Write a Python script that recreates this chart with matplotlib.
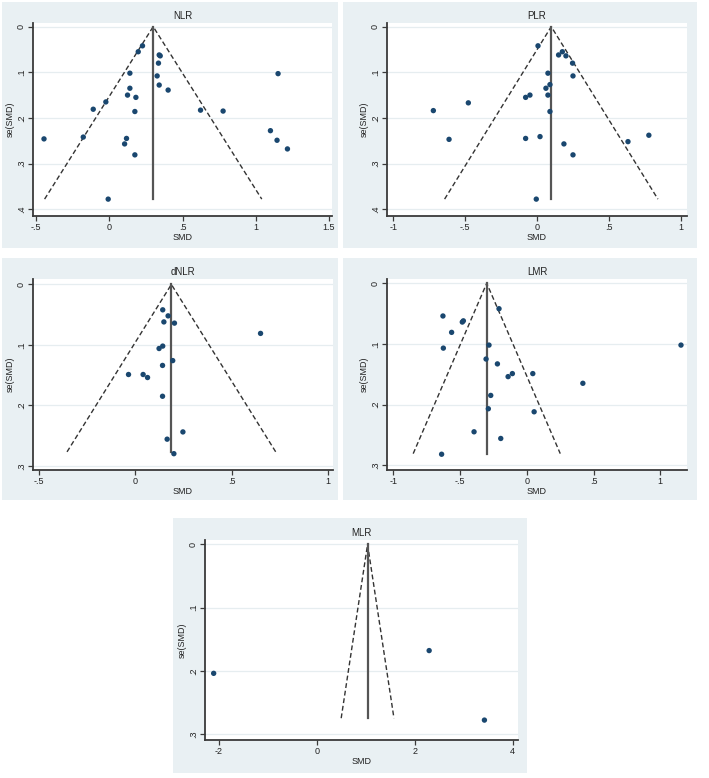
import matplotlib
matplotlib.use("Agg")
import matplotlib.pyplot as plt
from matplotlib.patches import Rectangle

W, H = 709, 778

# funnel data: SMD and se(SMD) per study
NLR_SMD = [0.227, 0.198, 0.341, 0.348, 0.336, 0.141, 0.327, 0.341, 0.402, 0.141,
           0.125, 0.182, -0.023, -0.109, 0.175, 0.623, 0.777, 1.152, 1.100, 1.145,
           1.216, -0.445, -0.177, 0.118, 0.105, 0.175, -0.007]
NLR_SE = [0.042, 0.055, 0.062, 0.064, 0.080, 0.102, 0.108, 0.128, 0.139, 0.135,
          0.150, 0.155, 0.165, 0.181, 0.186, 0.183, 0.185, 0.103, 0.228, 0.249,
          0.268, 0.246, 0.242, 0.245, 0.257, 0.281, 0.378]
NLR_POOLED, NLR_SEMAX = 0.30, 0.378

PLR_SMD = [0.005, 0.148, 0.174, 0.199, 0.245, 0.074, 0.248, 0.088, 0.060, -0.051,
           -0.081, 0.074, -0.479, -0.722, 0.088, -0.613, -0.081, 0.019, 0.185, 0.248,
           0.630, 0.775, -0.007]
PLR_SE = [0.042, 0.062, 0.055, 0.064, 0.080, 0.102, 0.108, 0.127, 0.135, 0.150,
          0.155, 0.150, 0.167, 0.184, 0.186, 0.247, 0.245, 0.241, 0.257, 0.281,
          0.252, 0.238, 0.378]
PLR_POOLED, PLR_SEMAX = 0.097, 0.378

DNLR_SMD = [0.142, 0.170, 0.148, 0.203, 0.651, 0.142, 0.123, 0.194, 0.141, -0.036,
            0.040, 0.063, 0.141, 0.247, 0.165, 0.200]
DNLR_SE = [0.042, 0.052, 0.062, 0.064, 0.081, 0.102, 0.106, 0.126, 0.134, 0.149,
           0.149, 0.154, 0.185, 0.244, 0.256, 0.280]
DNLR_POOLED, DNLR_SEMAX = 0.187, 0.277

LMR_SMD = [-0.208, -0.628, -0.475, -0.483, -0.563, -0.625, -0.283, 1.155, -0.305, -0.220,
           -0.140, -0.108, 0.045, 0.420, -0.270, -0.288, 0.055, -0.395, -0.195, -0.638]
LMR_SE = [0.042, 0.054, 0.062, 0.064, 0.081, 0.107, 0.102, 0.102, 0.125, 0.133,
          0.154, 0.149, 0.149, 0.165, 0.185, 0.207, 0.212, 0.245, 0.256, 0.282]
LMR_POOLED, LMR_SEMAX = -0.30, 0.281

MLR_SMD = [-2.109, 2.293, 3.422]
MLR_SE = [0.204, 0.168, 0.278]
MLR_POOLED, MLR_SEMAX = 1.035, 0.275

X_TICKS_A = [-0.5, 0, 0.5, 1, 1.5]
X_LABELS_A = ["-.5", "0", ".5", "1", "1.5"]
X_TICKS_B = [-1, -0.5, 0, 0.5, 1]
X_LABELS_B = ["-1", "-.5", "0", ".5", "1"]
X_TICKS_C = [-0.5, 0, 0.5, 1]
X_LABELS_C = ["-.5", "0", ".5", "1"]
X_TICKS_D = [-2, 0, 2, 4]
X_LABELS_D = ["-2", "0", "2", "4"]
Y_TICKS_4 = [0, 0.1, 0.2, 0.3, 0.4]
Y_LABELS_4 = ["0", ".1", ".2", ".3", ".4"]
Y_TICKS_3 = [0, 0.1, 0.2, 0.3]
Y_LABELS_3 = ["0", ".1", ".2", ".3"]

FRAME = "#e9f0f3"
NAVY = "#1a476f"
AXIS = "#3a3a3a"


def px_rect(x0, y0, x1, y1):
    return [x0 / W, 1 - y1 / H, (x1 - x0) / W, (y1 - y0) / H]


def funnel(fig, frame, plot, title, smd, se, pooled, semax,
           xlim, ylim, xticks, xlabels, yticks, ylabels):
    fx0, fy0, fx1, fy1 = frame
    fig.add_artist(Rectangle((fx0 / W, 1 - fy1 / H), (fx1 - fx0) / W, (fy1 - fy0) / H,
                             transform=fig.transFigure, facecolor=FRAME,
                             edgecolor="none", zorder=0))
    ax = fig.add_axes(px_rect(*plot))
    ax.set_facecolor("white")
    ax.set_xlim(*xlim)
    ax.set_ylim(*ylim)

    for y in yticks:
        ax.axhline(y, color="#e6edf0", lw=0.9, zorder=1)

    lo = pooled - 1.96 * semax
    hi = pooled + 1.96 * semax
    ax.plot([lo, pooled, hi], [semax, 0, semax], ls=(0, (3.5, 2)), color="#333333",
            lw=1.0, zorder=2)
    ax.plot([pooled, pooled], [0, semax], color="#555555", lw=1.6, zorder=2)
    ax.scatter(smd, se, s=15, color=NAVY, edgecolors="none", zorder=3)

    for side in ("top", "right"):
        ax.spines[side].set_visible(False)
    for side in ("left", "bottom"):
        ax.spines[side].set_color(AXIS)
        ax.spines[side].set_linewidth(1.3)

    ax.set_xticks(xticks)
    ax.set_xticklabels(xlabels)
    ax.set_yticks(yticks)
    ax.set_yticklabels(ylabels, rotation=90, va="center")
    ax.tick_params(direction="out", length=3.5, width=0.9, color=AXIS,
                   labelsize=6.5, labelcolor="#222222", pad=1.5)
    ax.set_xlabel("SMD", fontsize=6.5, labelpad=0.5, color="#222222")
    ax.set_ylabel("se(SMD)", fontsize=6.5, labelpad=2, color="#222222")
    ax.set_title(title, fontsize=7, pad=3, color="#222222")
    return ax


def main() -> None:
    plt.rcParams.update({"font.family": ["Liberation Sans", "DejaVu Sans"]})
    fig = plt.figure(figsize=(W / 100, H / 100), dpi=100)
    fig.patch.set_facecolor("white")

    funnel(fig, (2, 2, 338, 248), (33, 23, 332, 216), "NLR",
           NLR_SMD, NLR_SE, NLR_POOLED, NLR_SEMAX,
           (-0.52, 1.52), (0.415, -0.008), X_TICKS_A, X_LABELS_A, Y_TICKS_4, Y_LABELS_4)
    funnel(fig, (343, 2, 697, 248), (387, 23, 687, 216), "PLR",
           PLR_SMD, PLR_SE, PLR_POOLED, PLR_SEMAX,
           (-1.044, 1.04), (0.415, -0.008), X_TICKS_B, X_LABELS_B, Y_TICKS_4, Y_LABELS_4)
    funnel(fig, (2, 258, 338, 500), (33, 279, 333, 470), "dNLR",
           DNLR_SMD, DNLR_SE, DNLR_POOLED, DNLR_SEMAX,
           (-0.533, 1.028), (0.307, -0.009), X_TICKS_C, X_LABELS_C, Y_TICKS_3, Y_LABELS_3)
    funnel(fig, (343, 258, 697, 500), (387, 279, 687, 470), "LMR",
           LMR_SMD, LMR_SE, LMR_POOLED, LMR_SEMAX,
           (-1.047, 1.2), (0.308, -0.007), X_TICKS_B, X_LABELS_B, Y_TICKS_3, Y_LABELS_3)
    funnel(fig, (173, 518, 527, 773), (205, 540, 518, 740), "MLR",
           MLR_SMD, MLR_SE, MLR_POOLED, MLR_SEMAX,
           (-2.286, 4.108), (0.3095, -0.007), X_TICKS_D, X_LABELS_D, Y_TICKS_3, Y_LABELS_3)

    fig.savefig("out.png", dpi=100)


if __name__ == "__main__":
    main()
